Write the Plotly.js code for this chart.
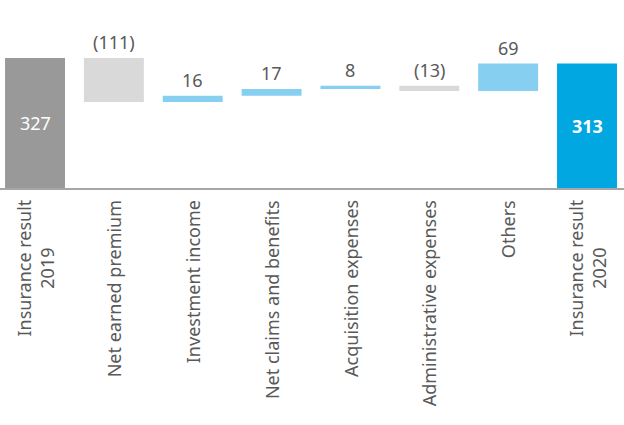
<!DOCTYPE html>
<html><head><meta charset="utf-8">
<script src="https://cdn.plot.ly/plotly-3.0.1.min.js"></script>
<style>html,body{margin:0;padding:0;background:#fff}#c{width:624px;height:425px}</style>
</head><body><div id="c"></div>
<script>
const categories = ["Insurance result<br>2019","Net earned premium","Investment income","Net claims and benefits","Acquisition expenses","Administrative expenses","Others","Insurance result<br>2020"];
const values = [327, -111, 16, 17, 8, -13, 69, 313];
const measures = ["absolute","relative","relative","relative","relative","relative","relative","total"];
const labels = ["327","(111)","16","17","8","(13)","69","313"];
const colors = {start:"#999999", up:"#87cff0", down:"#d9d9d9", end:"#00a7e1"};

const FONT = "Noto Sans";
const bases = [], heights = [], barColors = [];
let running = 0;
values.forEach((v, i) => {
  if (measures[i] === "absolute" || measures[i] === "total") {
    bases.push(0); heights.push(v); running = v;
    barColors.push(i === 0 ? colors.start : colors.end);
  } else {
    const next = running + v;
    bases.push(Math.min(running, next)); heights.push(Math.abs(v));
    barColors.push(v >= 0 ? colors.up : colors.down);
    running = next;
  }
});
const idx = categories.map((_, i) => i);
const trace = {
  type: "bar", x: idx, y: heights, base: bases, width: 0.76,
  marker: {color: barColors},
  hoverinfo: "skip"
};
const annotations = [];
idx.forEach(i => {
  const inside = measures[i] !== "relative";
  if (inside) {
    annotations.push({x: i, y: heights[i] / 2, text: labels[i], showarrow: false, xanchor: "center", yanchor: "middle",
      font: {family: FONT, size: 18, color: "#ffffff", weight: i === 7 ? "bold" : "normal"}});
  } else {
    annotations.push({x: i, y: bases[i] + heights[i], text: labels[i], showarrow: false, xanchor: "center", yanchor: "bottom", yshift: 2,
      font: {family: FONT, size: 18, color: "#595959"}});
  }
  annotations.push({x: i, xref: "x", yref: "paper", y: 0, yanchor: "top", xanchor: "center", yshift: -10,
    text: categories[i], textangle: -90, align: "center", showarrow: false,
    font: {family: FONT, size: 18, color: "#595959"}});
});
const layout = {
  width: 624, height: 425,
  margin: {l: 0, r: 0, t: 20, b: 237, pad: 0},
  paper_bgcolor: "#fff", plot_bgcolor: "#fff",
  showlegend: false,
  xaxis: {range: [-0.444, 7.469], showticklabels: false,
    showline: true, linecolor: "#a6a6a6", linewidth: 1.5, showgrid: false, zeroline: false, ticks: "", fixedrange: true},
  yaxis: {range: [0, 422.5], visible: false, showgrid: false, zeroline: false, fixedrange: true},
  annotations: annotations
};
Plotly.newPlot("c", [trace], layout, {displayModeBar: false, staticPlot: true});
</script></body></html>
